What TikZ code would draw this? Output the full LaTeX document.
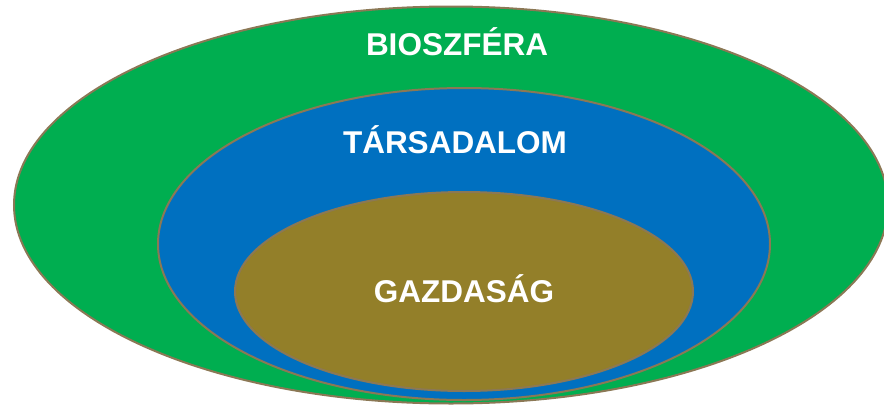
\documentclass[tikz,border=0pt]{standalone}
\usepackage{fontspec}
\setmainfont{Liberation Sans}
\definecolor{bioGreen}{RGB}{0,174,80}
\definecolor{socBlue}{RGB}{0,112,192}
\definecolor{ecoGold}{RGB}{147,127,41}
\definecolor{rimBrown}{RGB}{139,120,85}
\begin{document}
\begin{tikzpicture}[x=1pt,y=-1pt,
  ring/.style={draw=rimBrown,line width=2pt},
  label/.style={text=white,font=\bfseries\fontsize{31.5}{36}\selectfont,anchor=base,inner sep=0pt}]
\useasboundingbox (0,0) rectangle (884,405);
\clip (0,0) rectangle (884,405);
\draw[ring,fill=bioGreen] (451,205) ellipse [x radius=437, y radius=198.5];
\draw[ring,fill=socBlue] (464,244) ellipse [x radius=306, y radius=156];
\draw[ring,fill=ecoGold] (464,291.5) ellipse [x radius=229, y radius=99.5];
\node[label] (bio) at (457,55) {BIOSZFÉRA};
\node[label] (soc) at (455,153) {TÁRSADALOM};
\node[label] (eco) at (464,302) {GAZDASÁG};
\end{tikzpicture}
\end{document}
